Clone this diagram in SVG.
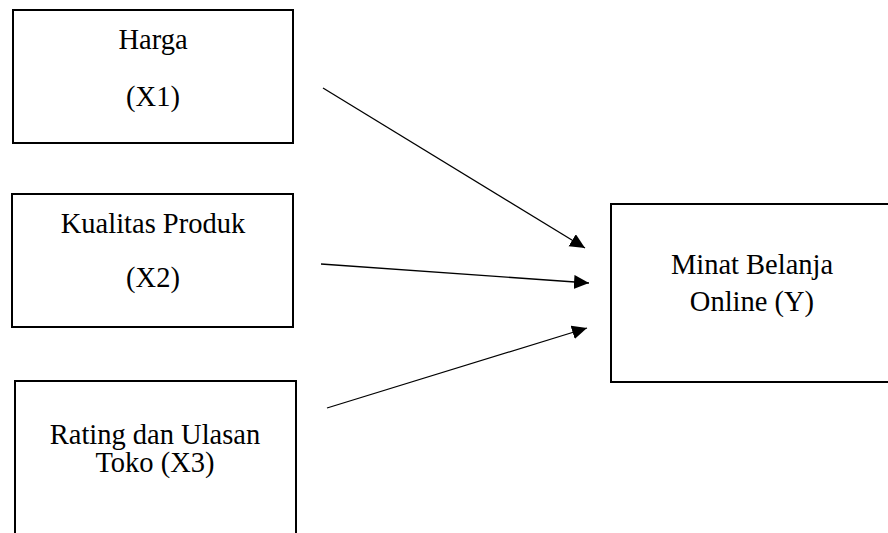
<svg xmlns="http://www.w3.org/2000/svg" width="888" height="533" viewBox="0 0 888 533">
<style>
.box{fill:#fff;stroke:#000;stroke-width:2}
.t{font-family:'Liberation Serif','Times New Roman','DejaVu Serif',serif;font-size:28.5px;fill:#000;text-anchor:middle}
.c{stroke:#000;stroke-width:1.3;fill:none}
</style>
<defs>
<marker id="ah" markerUnits="userSpaceOnUse" markerWidth="16" markerHeight="15" refX="15" refY="7" orient="auto">
<path d="M0,0 L15,7 L0,14 z" fill="#000"/>
</marker>
</defs>
<rect width="888" height="533" fill="#fff"/>
<g id="x1">
<rect class="box" x="13" y="10" width="280" height="133"/>
<text class="t" x="153" y="49" font-family="Liberation Serif, serif">Harga</text>
<text class="t" x="153" y="106" font-family="Liberation Serif, serif">(X1)</text>
</g>
<g id="x2">
<rect class="box" x="12" y="194" width="281" height="133"/>
<text class="t" x="153" y="233" font-family="Liberation Serif, serif">Kualitas Produk</text>
<text class="t" x="153" y="287" font-family="Liberation Serif, serif">(X2)</text>
</g>
<g id="x3">
<rect class="box" x="15" y="381" width="281" height="180"/>
<text class="t" x="155" y="444" font-family="Liberation Serif, serif">Rating dan Ulasan</text>
<text class="t" x="155" y="472" font-family="Liberation Serif, serif">Toko (X3)</text>
</g>
<g id="y">
<rect class="box" x="611" y="204" width="290" height="178"/>
<text class="t" x="752" y="274" font-family="Liberation Serif, serif">Minat Belanja</text>
<text class="t" x="752" y="311" font-family="Liberation Serif, serif">Online (Y)</text>
</g>
<g id="connectors">
<line class="c" x1="323" y1="88" x2="585" y2="248" marker-end="url(#ah)"/>
<line class="c" x1="321" y1="264" x2="589" y2="283" marker-end="url(#ah)"/>
<line class="c" x1="327" y1="408" x2="587" y2="328" marker-end="url(#ah)"/>
</g>
</svg>
